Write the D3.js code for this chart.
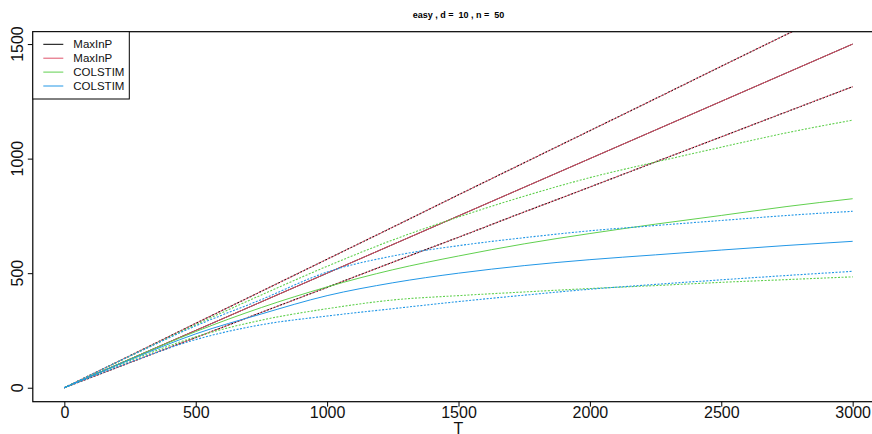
<!DOCTYPE html>
<html>
<head>
<meta charset="utf-8">
<script src="https://cdn.jsdelivr.net/npm/d3@7"></script>
<style>
  body { margin: 0; background: #fff; }
  text { font-family: "Liberation Sans", Arial, sans-serif; }
</style>
</head>
<body>
<div id="chart"></div>
<script>
// x軸の値 (T)
const tValues = [0, 250, 500, 750, 1000, 1250, 1500, 1750, 2000, 2250, 2500, 2750, 3000];

// MaxInP (平均と上下の点線)
const maxinpMean  = [0, 125, 250, 375, 500, 625, 750, 875, 1000, 1125, 1250, 1375, 1500];
const maxinpUpper = [0, 140, 281, 421, 561, 701, 842, 982, 1122, 1262, 1403, 1543, 1683];
const maxinpLower = [0, 110, 219, 329, 438, 548, 657, 767, 876, 986, 1095, 1205, 1314];

// COLSTIM (緑)
const greenMean  = [0, 125, 245, 350, 440, 515, 575, 628, 673, 714, 752, 791, 825];
const greenUpper = [0, 138, 275, 405, 530, 645, 745, 836, 917, 985, 1050, 1113, 1168];
const greenLower = [0, 118, 222, 295, 345, 383, 402, 418, 433, 446, 460, 472, 484];

// COLSTIM (青)
const blueMean  = [0, 122, 235, 322, 402, 458, 500, 533, 559, 580, 601, 621, 639];
const blueUpper = [0, 138, 270, 385, 505, 575, 620, 655, 685, 708, 730, 752, 770];
const blueLower = [0, 112, 210, 275, 313, 345, 376, 404, 430, 451, 471, 490, 508];

const xTicks = [0, 500, 1000, 1500, 2000, 2500, 3000];
const yTicks = [0, 500, 1000, 1500];
const legendLabels = ["MaxInP", "MaxInP", "COLSTIM", "COLSTIM"];
const legendColors = ["#000000", "#DF536B", "#61D04F", "#2297E6"];

const width = 872;
const height = 434;
// プロット領域 (Rのデフォルトの4%拡張を再現)
const plot = { left: 32.8, right: 884.2, top: 31.7, bottom: 401.7 };

const svg = d3.select("#chart")
  .append("svg")
  .attr("width", width)
  .attr("height", height);

const x = d3.scaleLinear()
  .domain([-120, 3120])
  .range([plot.left, plot.right]);

const y = d3.scaleLinear()
  .domain([-61, 1554])
  .range([plot.bottom, plot.top]);

// タイトル
svg.append("text")
  .attr("x", (plot.left + plot.right) / 2)
  .attr("y", 18)
  .attr("text-anchor", "middle")
  .style("font-size", "9px")
  .style("font-weight", "bold")
  .style("white-space", "pre")
  .text("easy , d =  10 , n =  50");

svg.append("clipPath")
  .attr("id", "clip")
  .append("rect")
  .attr("x", plot.left)
  .attr("y", plot.top)
  .attr("width", plot.right - plot.left)
  .attr("height", plot.bottom - plot.top);

const line = d3.line()
  .x(d => x(d[0]))
  .y(d => y(d[1]))
  .curve(d3.curveMonotoneX);

// 描画する系列 (黒の上に赤を重ねる)
const dotted = "2,1.5";
const series = [
  { values: maxinpUpper, color: legendColors[0], dash: dotted, offset: 0 },
  { values: maxinpLower, color: legendColors[0], dash: dotted, offset: 0 },
  { values: maxinpMean, color: legendColors[0], dash: null, offset: 0 },
  { values: maxinpUpper, color: legendColors[1], dash: dotted, offset: 1 },
  { values: maxinpLower, color: legendColors[1], dash: dotted, offset: 1 },
  { values: maxinpMean, color: legendColors[1], dash: null, offset: 0 },
  { values: greenUpper, color: legendColors[2], dash: dotted, offset: 0 },
  { values: greenLower, color: legendColors[2], dash: dotted, offset: 0 },
  { values: greenMean, color: legendColors[2], dash: null, offset: 0 },
  { values: blueUpper, color: legendColors[3], dash: dotted, offset: 0 },
  { values: blueLower, color: legendColors[3], dash: dotted, offset: 0 },
  { values: blueMean, color: legendColors[3], dash: null, offset: 0 }
];

svg.append("g")
  .attr("clip-path", "url(#clip)")
  .selectAll("path")
  .data(series)
  .enter()
  .append("path")
  .attr("d", s => line(tValues.map((t, i) => [t, s.values[i]])))
  .attr("fill", "none")
  .attr("stroke", s => s.color)
  .attr("stroke-width", s => s.dash ? 1.1 : 1)
  .attr("stroke-dasharray", s => s.dash)
  .attr("stroke-dashoffset", s => s.offset);

// 枠線
svg.append("rect")
  .attr("x", plot.left)
  .attr("y", plot.top)
  .attr("width", plot.right - plot.left)
  .attr("height", plot.bottom - plot.top)
  .attr("fill", "none")
  .attr("stroke", "black")
  .attr("stroke-width", 1.2);

// X軸
const xAxis = svg.append("g")
  .attr("transform", `translate(0,${plot.bottom})`)
  .call(d3.axisBottom(x).tickValues(xTicks).tickFormat(d3.format("d"))
    .tickSize(5).tickSizeOuter(0).tickPadding(0));
xAxis.select(".domain").remove();
xAxis.selectAll("text")
  .style("font-size", "16px")
  .attr("fill", "#111");

// Y軸
const yAxis = svg.append("g")
  .attr("transform", `translate(${plot.left},0)`)
  .call(d3.axisLeft(y).tickValues(yTicks).tickSize(5).tickSizeOuter(0));
yAxis.select(".domain").remove();
yAxis.selectAll("text").remove();

svg.append("g")
  .selectAll("text")
  .data(yTicks)
  .enter()
  .append("text")
  .attr("transform", d => `translate(22.7,${y(d)}) rotate(-90)`)
  .attr("text-anchor", "middle")
  .style("font-size", "16px")
  .attr("fill", "#111")
  .text(d => d);

// 軸ラベル
svg.append("text")
  .attr("x", (plot.left + plot.right) / 2)
  .attr("y", 434)
  .attr("text-anchor", "middle")
  .style("font-size", "16px")
  .attr("fill", "#111")
  .text("T");

// 凡例
const legendBox = svg.append("g");
legendBox.append("rect")
  .attr("x", plot.left)
  .attr("y", plot.top)
  .attr("width", 129.3 - plot.left)
  .attr("height", 99 - plot.top)
  .attr("fill", "white")
  .attr("stroke", "black")
  .attr("stroke-width", 1);

const legend = legendBox.selectAll(".legend")
  .data(legendLabels)
  .enter()
  .append("g")
  .attr("class", "legend")
  .attr("transform", (d, i) => `translate(0,${44.3 + i * 13.9})`);

legend.append("line")
  .attr("x1", 43.3)
  .attr("x2", 63.3)
  .attr("stroke", (d, i) => legendColors[i])
  .attr("stroke-width", 1);

legend.append("text")
  .attr("x", 73.3)
  .attr("y", 4)
  .style("font-size", "11.5px")
  .attr("fill", "#111")
  .text(d => d);
</script>
</body>
</html>
